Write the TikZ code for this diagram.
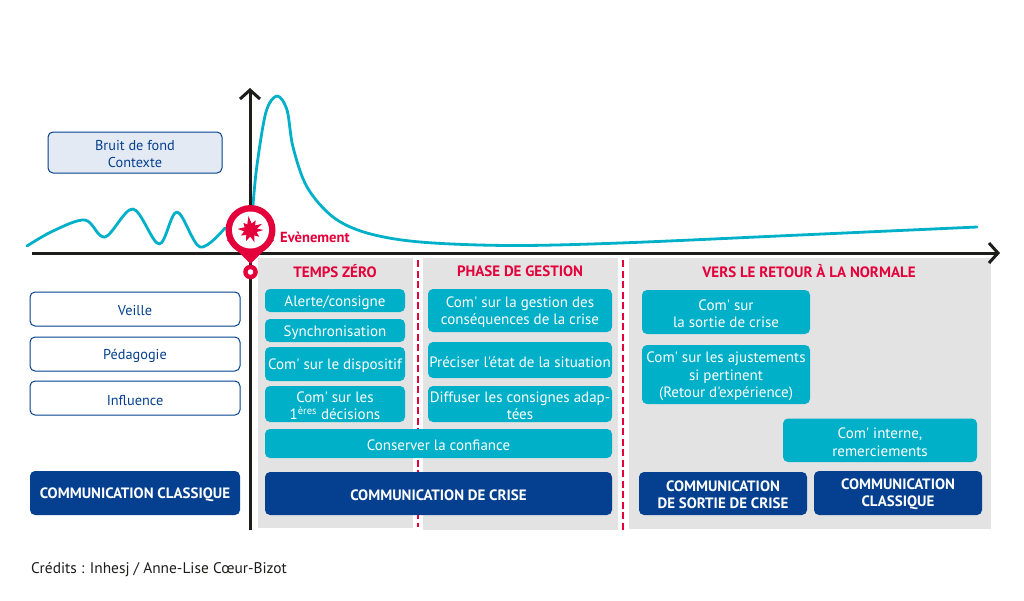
\documentclass[tikz,border=0pt]{standalone}
\usepackage{fontspec}
\newfontfamily\din{PT Sans}
\usetikzlibrary{arrows.meta}
\definecolor{teal1}{HTML}{00B0C8}
\definecolor{navy1}{HTML}{04408F}
\definecolor{red1}{HTML}{E4003A}
\definecolor{grey1}{HTML}{E3E3E3}
\definecolor{pale1}{HTML}{E4EAF3}
\definecolor{axis1}{HTML}{1D1D1B}
\newcommand{\bx}[7][]{%
  \path[#2,#1] (#4,#5) rectangle (#6,#7);
  \node[#2 text] (#3) at ({(#4+#6)/2},{(#5+#7)/2}) {\bxtext};
}
\tikzset{
  tealbox/.style={fill=teal1,rounded corners=5pt},
  tealbox text/.style={text=white,align=center,font=\din\fontsize{15}{17.3}\selectfont,inner sep=0pt,yshift=-2pt},
  navybox/.style={fill=navy1,rounded corners=5pt},
  navybox text/.style={text=white,align=center,font=\din\bfseries\fontsize{15}{17}\selectfont,inner sep=0pt,yshift=-1.5pt},
  linebox/.style={draw=navy1,line width=1pt,fill=white,rounded corners=5pt},
  linebox text/.style={text=navy1,align=center,font=\din\fontsize{14.3}{17}\selectfont,inner sep=0pt,yshift=-2pt},
  palebox/.style={draw=navy1,line width=1pt,fill=pale1,rounded corners=5pt},
  palebox text/.style={text=navy1,align=center,font=\din\fontsize{14.3}{17}\selectfont,inner sep=0pt,yshift=-2pt},
  heading/.style={text=red1,font=\din\bfseries\fontsize{15}{17}\selectfont,inner sep=0pt},
  axisline/.style={draw=axis1,line width=3pt,-{Straight Barb[length=9pt,width=20pt,line width=3pt]}},
  reddash/.style={draw=red1,line width=2pt,dash pattern=on 7pt off 3.5pt},
  curve/.style={draw=teal1,line width=2.8pt,line cap=round,line join=round},
}
\begin{document}
\begin{tikzpicture}[x=1pt,y=-1pt]
\useasboundingbox (0,0) rectangle (1024,600);
\fill[white] (0,0) rectangle (1024,600);
% grey panels
\fill[grey1] (258,258) rectangle (413,528);
\fill[grey1] (423,258) rectangle (618,530);
\fill[grey1] (629,258) rectangle (991,529);
% dashed
\coordinate (d1a) at (418,260); \coordinate (d1b) at (418,527);
\coordinate (d2a) at (622.5,260); \coordinate (d2b) at (622.5,531);
\draw[reddash] (d1a) -- (d1b);
\draw[reddash] (d2a) -- (d2b);
% curve
\draw[curve] plot[smooth,tension=0.55] coordinates {(27,246) (53,231) (85,220) (105,237) (133,209) (159,244) (177,212) (200,247) (225,228)};
\draw[curve] plot[smooth,tension=0.55] coordinates {(253,205) (257,165) (266,112) (277,96) (287,110) (293,147) (307,187) (333,217) (367,233) (420,242) (510,245.5) (620,243) (800,235) (977,227)};
% axes
\coordinate (xa) at (32,253); \coordinate (xb) at (1000,253);
\coordinate (ya) at (250,530); \coordinate (yb) at (250,88);
\draw[axisline] (xa) -- (xb);
\draw[axisline] (ya) -- (yb);
% marker
\fill[red1] (227,240) -- (250.5,264) -- (274,240) -- cycle;
\fill[red1] (250.5,230) circle (25);
\fill[white] (250.5,230) circle (18.5);
\fill[red1] ([shift={(250.5,230)}]0:13)
  -- ([shift={(250.5,230)}]18:6.5) -- ([shift={(250.5,230)}]38:11)
  -- ([shift={(250.5,230)}]55:6.5) -- ([shift={(250.5,230)}]72:13)
  -- ([shift={(250.5,230)}]92:6.5) -- ([shift={(250.5,230)}]112:12)
  -- ([shift={(250.5,230)}]130:6.5) -- ([shift={(250.5,230)}]150:11)
  -- ([shift={(250.5,230)}]168:6.5) -- ([shift={(250.5,230)}]185:13)
  -- ([shift={(250.5,230)}]205:6.5) -- ([shift={(250.5,230)}]225:10)
  -- ([shift={(250.5,230)}]240:6.5) -- ([shift={(250.5,230)}]262:14)
  -- ([shift={(250.5,230)}]280:6.5) -- ([shift={(250.5,230)}]298:11)
  -- ([shift={(250.5,230)}]315:6.5) -- ([shift={(250.5,230)}]332:13)
  -- ([shift={(250.5,230)}]348:6.5) -- cycle;
\fill[red1] (250.5,272) circle (7.3);
\fill[white] (250.5,272) circle (2.8);
\node[text=red1,anchor=west,font=\din\bfseries\fontsize{14.6}{15}\selectfont,inner sep=0pt] (evt) at (280,237) {Evènement};
% headings
\node[heading] (h1) at (335,271.5) {TEMPS ZÉRO};
\node[heading] (h2) at (520,271.5) {PHASE DE GESTION};
\node[heading] (h3) at (809,271.5) {VERS LE RETOUR À LA NORMALE};
% left
\def\bxtext{Bruit de fond\\Contexte}\bx{palebox}{bruit}{48}{132}{222}{173}
\def\bxtext{Veille}\bx{linebox}{veille}{30}{292}{240}{326}
\def\bxtext{Pédagogie}\bx{linebox}{peda}{30}{337}{240}{371}
\def\bxtext{Influence}\bx{linebox}{infl}{30}{381}{240}{415}
\def\bxtext{COMMUNICATION CLASSIQUE}\bx{navybox}{cc}{30}{471}{240}{515}
% temps zero
\def\bxtext{Alerte/consigne}\bx{tealbox}{a1}{265}{289}{405}{312}
\def\bxtext{Synchronisation}\bx{tealbox}{a2}{265}{319}{405}{342}
\def\bxtext{Com' sur le dispositif}\bx{tealbox}{a3}{265}{347}{405}{381}
\def\bxtext{Com' sur les\\1\textsuperscript{ères} décisions}\bx{tealbox}{a4}{265}{386}{405}{422}
% gestion
\def\bxtext{Com' sur la gestion des\\conséquences de la crise}\bx{tealbox}{b1}{428}{289}{612}{332}
\def\bxtext{Préciser l'état de la situation}\bx{tealbox}{b2}{428}{342}{612}{378}
\def\bxtext{Diffuser les consignes adap-\\tées}\bx{tealbox}{b3}{428}{386}{612}{422}
\def\bxtext{Conserver la confiance}\bx{tealbox}{c1}{265}{429}{612}{458}
\def\bxtext{COMMUNICATION DE CRISE}\bx{navybox}{cr}{265}{472}{612}{515}
% retour
\def\bxtext{Com' sur\\la sortie de crise}\bx{tealbox}{r1}{642}{290}{810}{334}
\def\bxtext{Com' sur les ajustements\\si pertinent\\(Retour d'expérience)}\bx{tealbox}{r2}{642}{345}{810}{404}
\def\bxtext{Com' interne,\\remerciements}\bx{tealbox}{r3}{783}{418.5}{977}{462}
\def\bxtext{COMMUNICATION\\DE SORTIE DE CRISE}\bx{navybox}{s1}{639}{472}{807}{515}
\def\bxtext{COMMUNICATION\\CLASSIQUE}\bx{navybox}{s2}{814}{471}{982}{515}
% credits
\node[anchor=west,text=axis1,font=\din\fontsize{15.4}{18}\selectfont,inner sep=0pt] (cred) at (31,570) {Crédits : Inhesj / Anne-Lise Cœur-Bizot};
\end{tikzpicture}
\end{document}
